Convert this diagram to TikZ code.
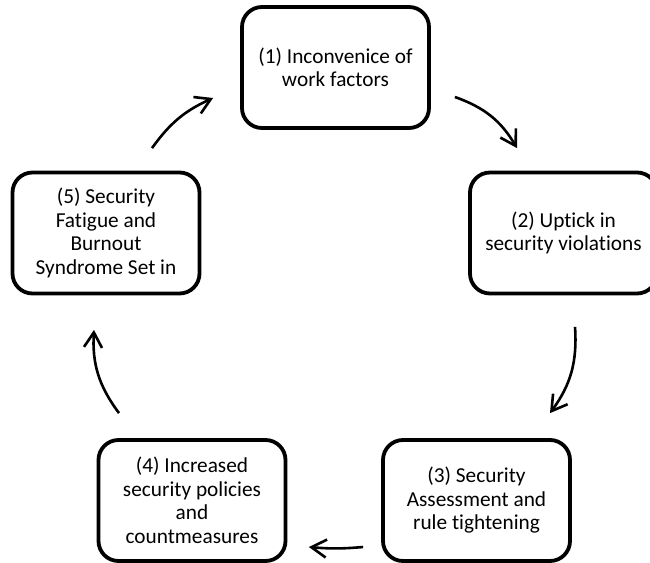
\documentclass[tikz,border=0pt]{standalone}
\usepackage{fontspec}
\setmainfont{Carlito}[Ligatures=CommonOff]
\usetikzlibrary{arrows.meta}

\begin{document}
\begin{tikzpicture}[x=1pt,y=-1pt,
  stage/.style={draw,line width=3.8pt,rounded corners=20pt,
    minimum width=187pt,minimum height=121pt,inner sep=0pt,
    align=center,font=\fontsize{21.3}{23.5}\selectfont},
  flow/.style={line width=2.6pt,-{Straight Barb[length=15pt,width=18pt]}}]
  \useasboundingbox (0,0) rectangle (650,562);
  % the five stages, clockwise from the top
  \node[stage] (s1) at (335.5,67.5) {(1) Inconvenice of\\work factors};
  \node[stage] (s2) at (563.5,233) {(2) Uptick in\\security violations};
  \node[stage] (s3) at (476.5,500.5) {(3) Security\\Assessment and\\rule tightening};
  \node[stage] (s4) at (192,500.5) {(4) Increased\\security policies\\and\\countmeasures};
  \node[stage] (s5) at (106,233) {(5) Security\\Fatigue and\\Burnout\\Syndrome Set in};
  % arrows of the cycle
  \draw[flow] ([xshift=24pt,yshift=-29.5pt]s1.east) to[bend left=20] ([xshift=-46.5pt,yshift=22.5pt]s2.north);
  \draw[flow] ([xshift=11.5pt,yshift=-31.5pt]s2.south) to[bend left=20] ([xshift=73.5pt,yshift=25pt]s3.north);
  \draw[flow] ([xshift=-18pt,yshift=-46.5pt]s3.west) to[bend left=5] ([xshift=21.5pt,yshift=-46.5pt]s4.east);
  \draw[flow] ([xshift=-73pt,yshift=25pt]s4.north) to[bend left=20] ([xshift=-12pt,yshift=-34.5pt]s5.south);
  \draw[flow] ([xshift=46pt,yshift=22.5pt]s5.north) to[bend left=15] ([xshift=-27pt,yshift=-30.5pt]s1.west);
\end{tikzpicture}
\end{document}
